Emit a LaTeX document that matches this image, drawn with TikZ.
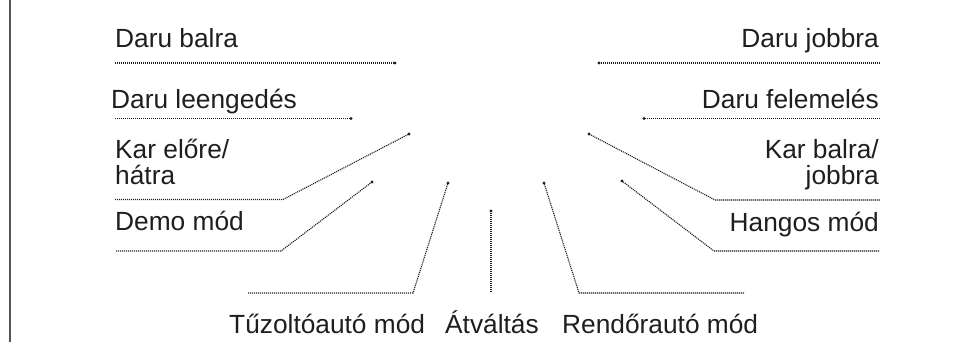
\documentclass[tikz,border=0pt]{standalone}
\usepackage{fontspec}
\setmainfont{Liberation Sans}
\usepackage{xcolor}
\usepackage{tikz}
\usetikzlibrary{positioning}
\definecolor{leadGray}{HTML}{1E1E1E}
\definecolor{frameGray}{HTML}{555555}
\tikzset{lbl-node/.style={inner sep=0pt, font=\fontsize{26.3}{25.5}\selectfont, text=leadGray}}
\tikzset{lead-line/.style={draw=leadGray, line width=1.1pt, dash pattern=on 1.1pt off 0.9pt}}
\tikzset{lead-dot/.style={circle, fill=leadGray, inner sep=0pt, minimum size=3.4pt}}

\begin{document}
\begin{tikzpicture}[x=1pt, y=-1pt]
            \useasboundingbox (0,0) rectangle (977,342);
            \draw[frameGray, line width=1.5pt] (10,0) -- (10,342);

            % labels on the left
            \node[lbl-node, anchor=base west] (balra) at (115,48) {Daru balra};
            \node[lbl-node, anchor=base west] (leengedes) at (111,109) {Daru leengedés};
            \node[lbl-node, anchor=base west, align=left] (kar-elore) at (115,184) {Kar előre/\\hátra};
            \node[lbl-node, anchor=base west] (demo) at (115,230) {Demo mód};

            % labels on the right
            \node[lbl-node, anchor=base east] (jobbra) at (879,48) {Daru jobbra};
            \node[lbl-node, anchor=base east] (felemeles) at (879,109) {Daru felemelés};
            \node[lbl-node, anchor=base east, align=right] (kar-balra) at (879,184) {Kar balra/\\jobbra};
            \node[lbl-node, anchor=base east] (hangos) at (879,231) {Hangos mód};

            % labels at the bottom
            \node[lbl-node, anchor=base west] (tuzolto) at (229,333) {Tűzoltóautó mód};
            \node[lbl-node, anchor=base west] (atvaltas) at (445,333) {Átváltás};
            \node[lbl-node, anchor=base west] (rendor) at (562,333) {Rendőrautó mód};

            % dots
            \node[lead-dot] (balra-dot) at (395,63) {};
            \node[lead-dot] (leengedes-dot) at (351,118.5) {};
            \node[lead-dot] (kar-elore-dot) at (409,134) {};
            \node[lead-dot] (demo-dot) at (372,182) {};
            \node[lead-dot] (tuzolto-dot) at (448,183) {};
            \node[lead-dot] (atvaltas-dot) at (491,211) {};
            \node[lead-dot] (rendor-dot) at (544,183) {};
            \node[lead-dot] (jobbra-dot) at (599,63) {};
            \node[lead-dot] (felemeles-dot) at (644,118.5) {};
            \node[lead-dot] (kar-balra-dot) at (589,134) {};
            \node[lead-dot] (hangos-dot) at (622,181) {};

            % line starts and bends
            \coordinate (balra-start) at (115,63);
            \coordinate (leengedes-start) at (115,118.5);
            \coordinate (kar-elore-start) at (115,199.5);
            \coordinate (kar-elore-bend) at (283,199.5);
            \coordinate (demo-start) at (116,251);
            \coordinate (demo-bend) at (281,251);
            \coordinate (tuzolto-start) at (248,293);
            \coordinate (tuzolto-bend) at (413,293);
            \coordinate (atvaltas-start) at (491,292);
            \coordinate (rendor-start) at (744,293);
            \coordinate (rendor-bend) at (579,293);
            \coordinate (jobbra-start) at (880,63);
            \coordinate (felemeles-start) at (880,118.5);
            \coordinate (kar-balra-start) at (880,200);
            \coordinate (kar-balra-bend) at (715,200);
            \coordinate (hangos-start) at (879,251);
            \coordinate (hangos-bend) at (714,251);

            \draw[lead-line] (balra-start) -- (balra-dot.center);
            \draw[lead-line] (leengedes-start) -- (leengedes-dot.center);
            \draw[lead-line] (kar-elore-start) -- (kar-elore-bend) -- (kar-elore-dot.center);
            \draw[lead-line] (demo-start) -- (demo-bend) -- (demo-dot.center);
            \draw[lead-line] (tuzolto-start) -- (tuzolto-bend) -- (tuzolto-dot.center);
            \draw[lead-line] (atvaltas-start) -- (atvaltas-dot.center);
            \draw[lead-line] (rendor-start) -- (rendor-bend) -- (rendor-dot.center);
            \draw[lead-line] (jobbra-start) -- (jobbra-dot.center);
            \draw[lead-line] (felemeles-start) -- (felemeles-dot.center);
            \draw[lead-line] (kar-balra-start) -- (kar-balra-bend) -- (kar-balra-dot.center);
            \draw[lead-line] (hangos-start) -- (hangos-bend) -- (hangos-dot.center);
        \end{tikzpicture}
\end{document}
